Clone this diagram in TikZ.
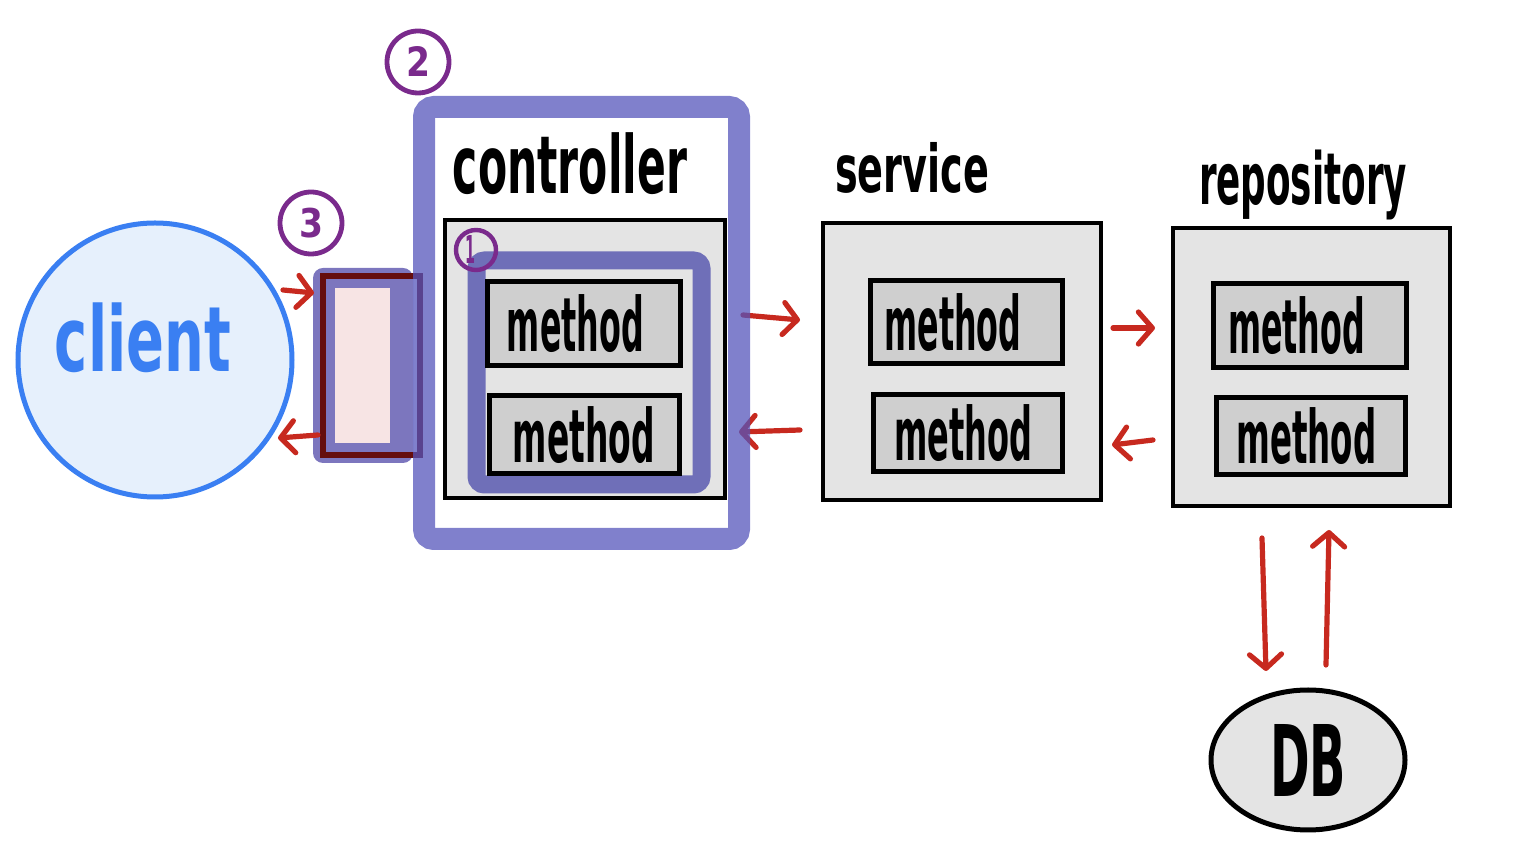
\documentclass[tikz,border=0pt]{standalone}
\usepackage{fontspec}
\setmainfont{DejaVu Sans}
\usetikzlibrary{arrows.meta,shapes.geometric,calc}
\definecolor{redarrow}{HTML}{C7291F}
\definecolor{frameblue}{HTML}{5555BB}
\definecolor{innerblue}{HTML}{6F6FB8}
\definecolor{boxgray}{HTML}{E4E4E4}
\definecolor{methodgray}{HTML}{CFCFCF}
\definecolor{numpurple}{HTML}{7A2A8C}
\definecolor{clientfill}{HTML}{E6F0FC}
\definecolor{clientblue}{HTML}{3A7FF2}
\definecolor{filterred}{HTML}{650D0D}
\definecolor{filterpink}{HTML}{F7E4E4}
\definecolor{filterpurple}{HTML}{7C76BE}
\newcommand{\hwtext}[3]{\resizebox*{#1}{#2}{\bfseries #3}}
\begin{document}
\begin{tikzpicture}[x=0.5pt,y=-0.5pt,
  layerbox/.style={draw=black, line width=2pt, fill=boxgray, inner sep=0pt},
  methodbox/.style={draw=black, line width=2.5pt, fill=methodgray, inner sep=0pt},
  numcircle/.style={circle, draw=numpurple, line width=2.4pt, inner sep=0pt, text=numpurple},
  flow/.style={draw=redarrow, line width=2.6pt, line cap=round, line join=round,
    -{Straight Barb[length=7pt,width=16pt,line cap=round,line join=round]}},
  label/.style={inner sep=0pt}
]
\useasboundingbox (0,0) rectangle (1522,854);

% client
\node[circle, draw=clientblue, fill=clientfill, line width=2.5pt, minimum size=137pt, inner sep=0pt] (client) at (155,360) {};
\node[label, text=clientblue] (clienttext) at (143,338) {\hwtext{88pt}{35pt}{client}};

% filter element
\node[draw=none, fill=filterpurple, rounded corners=5pt, minimum width=50pt, minimum height=97.5pt, inner sep=0pt] (filterbg) at (363,365.5) {};
\node[fill=filterpink, minimum width=27.5pt, minimum height=77.5pt, inner sep=0pt] (filterin) at (362.5,365.5) {};
\node[draw=filterred, line width=3pt, minimum width=48.5pt, minimum height=89.5pt, inner sep=0pt] (filter) at (371.5,365.5) {};

% circled numbers
\node[numcircle, minimum size=31pt] (n2) at (418,62) {\hwtext{12pt}{15pt}{2}};
\node[numcircle, minimum size=31pt] (n3) at (311,223) {\hwtext{12pt}{15pt}{3}};

% layer boxes
\node[layerbox, minimum width=140pt, minimum height=139pt] (ctrl) at (585,359) {};
\node[layerbox, minimum width=139pt, minimum height=138.5pt] (serv) at (962,361.5) {};
\node[layerbox, minimum width=138.5pt, minimum height=139pt] (repo) at (1311.5,367) {};

% inner purple frame (around controller methods)
\node[draw=innerblue, line width=9pt, rounded corners=4pt, minimum width=112.5pt, minimum height=112pt, inner sep=0pt] (inner) at (589,372.5) {};

% method boxes
\node[methodbox, minimum width=96.5pt, minimum height=42pt] (cm1) at (583.5,324) {\hspace*{-8pt}\hwtext{68.5pt}{29pt}{method}};
\node[methodbox, minimum width=95pt, minimum height=39pt] (cm2) at (584,435) {\hwtext{71pt}{28.5pt}{method}};
\node[methodbox, minimum width=96pt, minimum height=41.5pt] (sm1) at (966,322.5) {\hspace*{-13pt}\hwtext{68.5pt}{29pt}{method}};
\node[methodbox, minimum width=94.5pt, minimum height=38.5pt] (sm2) at (967.5,433.5) {\hspace*{-4pt}\hwtext{69pt}{28.5pt}{method}};
\node[methodbox, minimum width=96.5pt, minimum height=42pt] (rm1) at (1309.5,326) {\hspace*{-13pt}\hwtext{68.5pt}{29pt}{method}};
\node[methodbox, minimum width=94.5pt, minimum height=38.5pt] (rm2) at (1310.5,436.5) {\hspace*{-4pt}\hwtext{70pt}{28.5pt}{method}};

\node[numcircle, minimum size=20pt, line width=2.2pt] (n1) at (476,250) {\hspace*{-6pt}\hwtext{5pt}{14pt}{1}};

% DB
\node[ellipse, draw=black, line width=2.5pt, fill=boxgray, minimum width=97pt, minimum height=70pt, inner sep=0pt] (db) at (1308,760) {\hwtext{38pt}{36pt}{DB}};

% layer labels
\node[label] (ctrllabel) at (570,164) {\hwtext{117pt}{31pt}{controller}};
\node[label] (servlabel) at (912,168) {\hwtext{77pt}{25.5pt}{service}};
\node[label] (repolabel) at (1303,185) {\hwtext{104pt}{35pt}{repository}};

% arrow endpoints
\coordinate (a1s) at (283,290);  \coordinate (a1e) at (314,293);
\coordinate (a2s) at (318,435);  \coordinate (a2e) at (278,438);
\coordinate (a3s) at (743,315);  \coordinate (a3e) at (800,320);
\coordinate (a4s) at (800,430);  \coordinate (a4e) at (739,432);
\coordinate (a5s) at (1113,328); \coordinate (a5e) at (1155,328);
\coordinate (a6s) at (1153,440); \coordinate (a6e) at (1112,445);
\coordinate (a7s) at (1262,538); \coordinate (a7e) at (1266,671);
\coordinate (a8s) at (1326,665); \coordinate (a8e) at (1329,530);

\draw[flow] (a1s) -- (a1e);
\draw[flow] (a2s) -- (a2e);
\draw[flow] (a3s) -- (a3e);
\draw[flow] (a4s) -- (a4e);
\draw[flow] (a5s) -- (a5e);
\draw[flow] (a6s) -- (a6e);
\draw[flow] (a7s) -- (a7e);
\draw[flow] (a8s) -- (a8e);

% outer purple frame (controller)
\node[draw=frameblue, draw opacity=0.75, line width=11pt, rounded corners=5pt, minimum width=157.5pt, minimum height=216pt, inner sep=0pt] (ctrlframe) at (581.5,323) {};
\end{tikzpicture}
\end{document}
